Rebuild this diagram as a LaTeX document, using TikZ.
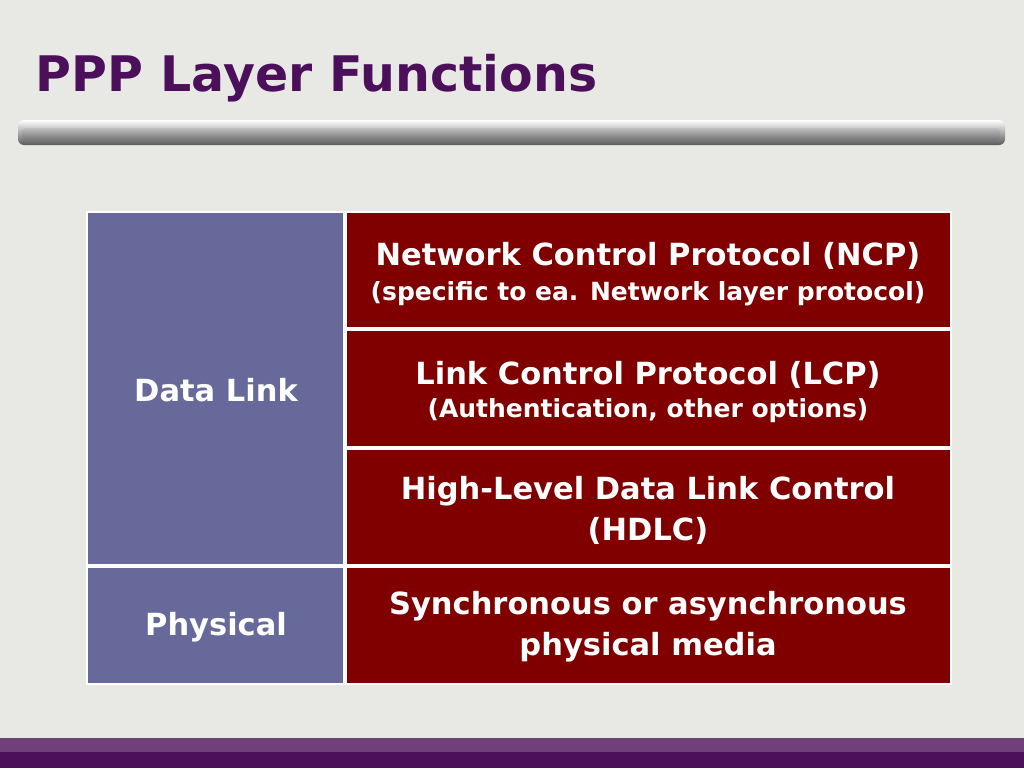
\documentclass[tikz,border=0pt]{standalone}
\usepackage{fontspec}
\setmainfont{DejaVu Sans}
\definecolor{ttl}{RGB}{76,16,90}
\definecolor{cb}{RGB}{103,105,155}
\definecolor{cr}{RGB}{128,0,0}
\definecolor{bg}{RGB}{232,232,228}
\begin{document}
\begin{tikzpicture}[x=1pt,y=-1pt,
  cellb/.style={fill=cb},
  cellr/.style={fill=cr},
  lab/.style={text=white,font=\bfseries\fontsize{30.5}{41}\selectfont,align=center},
  sub/.style={text=white,font=\bfseries\fontsize{25}{30}\selectfont,align=center}]
\useasboundingbox (0,0) rectangle (1024,768);
\fill[bg] (0,0) rectangle (1024,768);
\node[anchor=west,text=ttl,font=\bfseries\fontsize{49}{58}\selectfont] (title) at (32,78) {PPP Layer Functions};
\shade[top color=white,bottom color=gray!70!black,rounded corners=6pt] (18,120) rectangle (1005,145);
\shade[top color=gray!50,bottom color=gray!90!black,rounded corners=3pt] (22,128) rectangle (1000,140);
\fill[ttl!80] (0,738) rectangle (1024,768);
\fill[ttl] (0,752) rectangle (1024,768);
\fill[white] (86,211) rectangle (952,685);
\path[cellb] (88,213) rectangle (343,564);
\path[cellb] (88,568) rectangle (343,683);
\path[cellr] (347,213) rectangle (950,327);
\path[cellr] (347,331) rectangle (950,446);
\path[cellr] (347,450) rectangle (950,564);
\path[cellr] (347,568) rectangle (950,683);
\node[lab] (dl) at (216,390) {Data Link};
\node[lab] (ph) at (216,627) {Physical};
\node[lab] (ncp) at (648,256) {Network Control Protocol (NCP)};
\node[sub] (ncps) at (648,294) {(specific to ea. Network layer protocol)};
\node[lab] (lcp) at (648,375) {Link Control Protocol (LCP)};
\node[sub] (lcps) at (648,411) {(Authentication, other options)};
\node[lab] (hd) at (648,510) {High-Level Data Link Control\\(HDLC)};
\node[lab] (sy) at (648,627) {Synchronous or asynchronous\\physical media};
\end{tikzpicture}
\end{document}
